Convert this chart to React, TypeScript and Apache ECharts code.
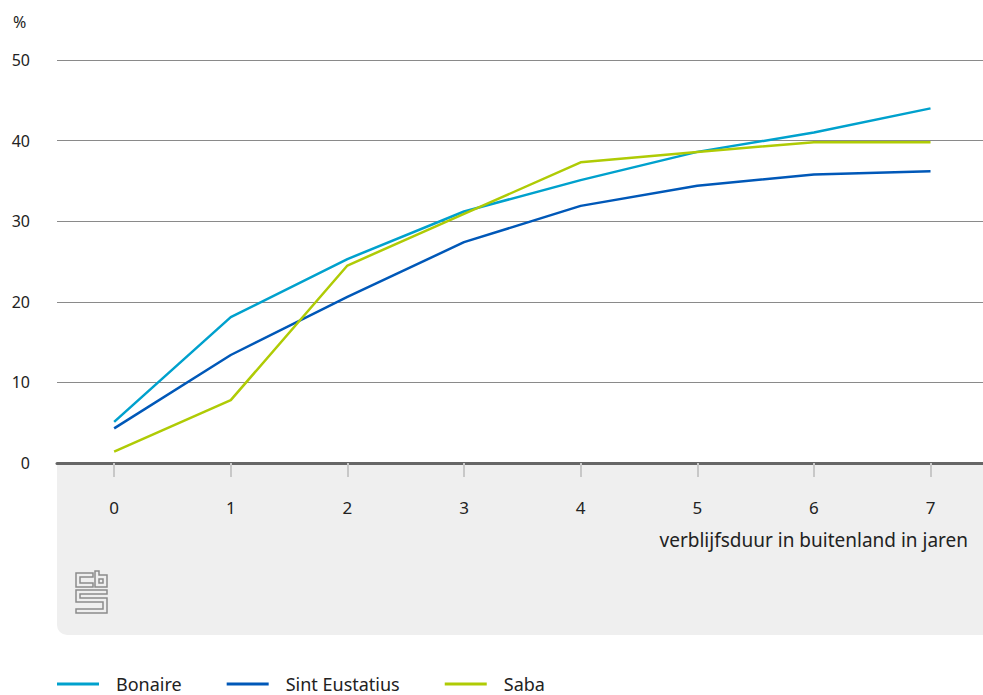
import React, { useEffect, useRef } from "react";
import * as echarts from "echarts";

const years = [0, 1, 2, 3, 4, 5, 6, 7];
const bonaire = [5.1, 18.1, 25.3, 31.2, 35.1, 38.6, 41.0, 44.0];
const sintEustatius = [4.3, 13.4, 20.6, 27.4, 31.9, 34.4, 35.8, 36.2];
const saba = [1.4, 7.8, 24.5, 30.9, 37.3, 38.6, 39.8, 39.8];
const seriesNames = ["Bonaire", "Sint Eustatius", "Saba"];
const colors = ["#00a1cd", "#0058b8", "#afcb05"];
const yTicks = [0, 10, 20, 30, 40, 50];
const xTitle = "verblijfsduur in buitenland in jaren";
const yTitle = "%";

const FONT = "Noto Sans";

export default function App() {
  const ref = useRef<HTMLDivElement>(null);
  useEffect(() => {
    if (!ref.current) return;
    const chart = echarts.init(ref.current, null, { renderer: "svg" });
    const data = [bonaire, sintEustatius, saba];
    chart.setOption({
      animation: false,
      textStyle: { fontFamily: FONT },
      grid: { left: 57, right: 0, top: 60, bottom: 232, containLabel: false },
      xAxis: {
        type: "value",
        min: -0.49,
        max: 7.45,
        axisLine: { show: true, onZero: false, lineStyle: { color: "#666", width: 3 } },
        axisTick: {
          show: true,
          customValues: years,
          length: 14,
          lineStyle: { color: "#c8c8c8", width: 2 },
        },
        axisLabel: {
          customValues: years,
          margin: 36,
          color: "#222",
          fontSize: 17,
          fontFamily: FONT,
        },
        splitLine: { show: false },
      },
      yAxis: {
        type: "value",
        min: 0,
        max: 50,
        interval: 10,
        axisLine: { show: false },
        axisTick: { show: false },
        axisLabel: {
          color: "#222",
          fontSize: 16,
          fontFamily: FONT,
          margin: 27,
          customValues: yTicks,
        },
        splitLine: { lineStyle: { color: "#8a8a8a", width: 1 } },
      },
      legend: {
        left: 57,
        top: 675,
        padding: 0,
        itemWidth: 42,
        itemHeight: 3,
        itemGap: 45,
        icon: "rect",
        textStyle: {
          color: "#222",
          fontSize: 18,
          fontFamily: FONT,
          padding: [0, 0, 0, 12],
        },
        data: seriesNames,
      },
      graphic: [
        {
          type: "rect",
          z: -10,
          shape: { x: 57, y: 463, width: 926, height: 172, r: [0, 0, 0, 10] },
          style: { fill: "#efefef" },
        },
        {
          type: "text",
          x: 968,
          y: 540,
          style: {
            text: xTitle,
            fill: "#222",
            font: `19px "${FONT}"`,
            textAlign: "right",
            textVerticalAlign: "middle",
          },
        },
        {
          type: "text",
          x: 13,
          y: 22,
          style: {
            text: yTitle,
            fill: "#222",
            font: `16px "${FONT}"`,
            textAlign: "left",
            textVerticalAlign: "middle",
          },
        },
        {
          type: "group",
          children: [
            {
              type: "polygon",
              shape: { points: [[93, 573], [76, 573], [76, 587], [93, 587], [93, 583], [80, 583], [80, 577], [93, 577]] },
              style: { fill: "none", stroke: "#8c8c8c", lineWidth: 1.5 },
            },
            {
              type: "polygon",
              shape: { points: [[95, 571], [99, 571], [99, 575], [107, 575], [107, 587], [95, 587]] },
              style: { fill: "none", stroke: "#8c8c8c", lineWidth: 1.5 },
            },
            {
              type: "polygon",
              shape: { points: [[99, 579], [103, 579], [103, 583], [99, 583]] },
              style: { fill: "none", stroke: "#8c8c8c", lineWidth: 1.5 },
            },
            {
              type: "polygon",
              shape: {
                points: [
                  [76, 590], [107, 590], [107, 594], [80, 594], [80, 598],
                  [107, 598], [107, 613], [76, 613], [76, 609], [103, 609],
                  [103, 602], [76, 602],
                ],
              },
              style: { fill: "none", stroke: "#8c8c8c", lineWidth: 1.5 },
            },
          ],
        },
      ],
      series: seriesNames.map((name, i) => ({
        name,
        type: "line",
        data: years.map((x, j) => [x, data[i][j]]),
        symbol: "none",
        color: colors[i],
        lineStyle: { width: 2.5, color: colors[i] },
        z: 3 + i,
      })),
    });
    return () => chart.dispose();
  }, []);
  return (
    <div
      ref={ref}
      style={{ position: "fixed", left: 0, top: 0, width: 983, height: 695, background: "#fff" }}
    />
  );
}
